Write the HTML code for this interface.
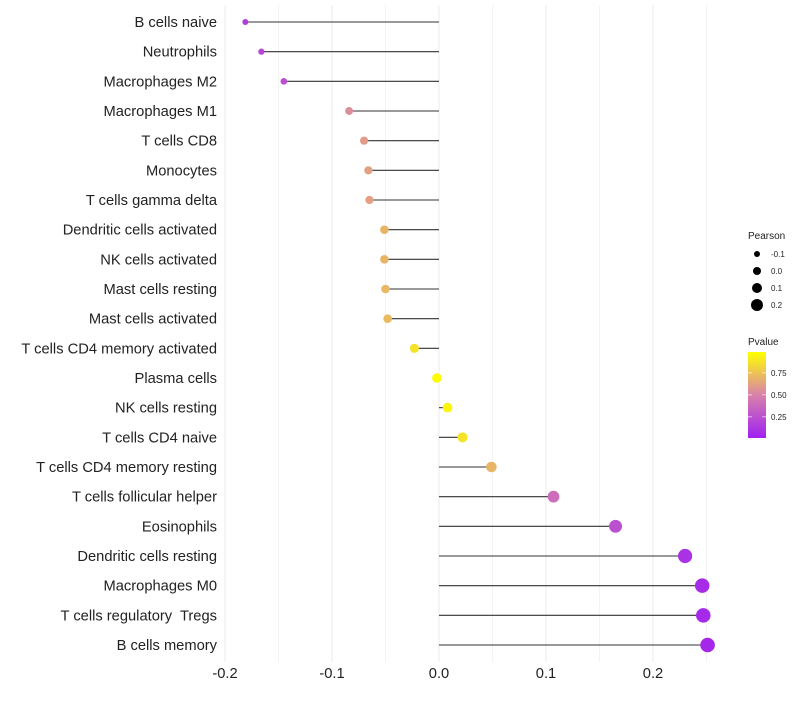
<!DOCTYPE html>
<html><head><meta charset="utf-8"><style>
body{margin:0;background:#fff;}
svg text{font-family:"Liberation Sans",sans-serif;white-space:pre;}
</style></head><body>
<svg id="chart" width="800" height="700"></svg>
<script>
const cells=["B cells naive","Neutrophils","Macrophages M2","Macrophages M1","T cells CD8","Monocytes","T cells gamma delta","Dendritic cells activated","NK cells activated","Mast cells resting","Mast cells activated","T cells CD4 memory activated","Plasma cells","NK cells resting","T cells CD4 naive","T cells CD4 memory resting","T cells follicular helper","Eosinophils","Dendritic cells resting","Macrophages M0","T cells regulatory  Tregs","B cells memory"];
const pearson=[-0.181,-0.166,-0.145,-0.084,-0.070,-0.066,-0.065,-0.051,-0.051,-0.050,-0.048,-0.023,-0.002,0.008,0.022,0.049,0.107,0.165,0.230,0.246,0.247,0.251];
const pvalue=[0.15,0.2,0.25,0.55,0.6,0.62,0.62,0.7,0.7,0.71,0.72,0.88,0.98,0.95,0.88,0.7,0.4,0.25,0.1,0.07,0.06,0.05];
const xTicks=[-0.2,-0.1,0.0,0.1,0.2];
const xTickLabels=["-0.2","-0.1","0.0","0.1","0.2"];
const sizeLegend=[-0.1,0.0,0.1,0.2];
const colorTicks=[0.25,0.5,0.75];

const NS="http://www.w3.org/2000/svg";
const svg=document.getElementById('chart');
function mk(t,a,p){const e=document.createElementNS(NS,t);for(const k in a)e.setAttribute(k,a[k]);(p||svg).appendChild(e);return e;}
const xs=v=>439+v*1070;
const ys=i=>22+i*(623/21);
const rs=v=>4.8+v*10;
function lerp(a,b,t){return a.map((x,i)=>Math.round(x+(b[i]-x)*t));}
function col(p){const t=Math.max(0,Math.min(1,(p-0.01)/0.98));const lo=[160,32,240],mid=[216,130,172],hi=[255,255,0];
 const c=t<0.5?lerp(lo,mid,t/0.5):lerp(mid,hi,(t-0.5)/0.5);return `rgb(${c.join(',')})`;}

for(let v=-0.2;v<=0.251;v+=0.05){const g=mk('line',{x1:xs(v),x2:xs(v),y1:5,y2:662,stroke:'#ebebeb','stroke-width':Math.abs(Math.round(v*20))%2===0?1:0.6});

}
xTicks.forEach((v,i)=>{const t=mk('text',{x:xs(v),y:678,'font-size':14.7,'text-anchor':'middle',fill:'#222'});t.textContent=xTickLabels[i];

});
cells.forEach((c,i)=>{
 const t=mk('text',{x:217,y:ys(i)+5,'font-size':14.7,'text-anchor':'end',fill:'#222'});t.textContent=c;
 
 
 const l=mk('line',{x1:xs(0),x2:xs(pearson[i]),y1:ys(i),y2:ys(i),stroke:'#333','stroke-width':1.1});
 
 
 const d=mk('circle',{cx:xs(pearson[i]),cy:ys(i),r:rs(pearson[i]),fill:col(pvalue[i])});
 
 
});
const lt=mk('text',{x:748,y:239,'font-size':10,fill:'#222'});lt.textContent='Pearson';


sizeLegend.forEach((v,i)=>{const y=254+i*17;
 const c=mk('circle',{cx:757,cy:y,r:rs(v)-0.8,fill:'#000'});
 
 
 const t=mk('text',{x:771,y:y+3,'font-size':8,fill:'#222'});t.textContent=v.toFixed(1);
 
 });
const ct=mk('text',{x:748,y:345,'font-size':10,fill:'#222'});ct.textContent='Pvalue';


const defs=mk('defs',{});const gr=mk('linearGradient',{id:'pg',x1:0,y1:1,x2:0,y2:0},defs);
[0,0.25,0.5,0.75,1].forEach(s=>mk('stop',{offset:s,'stop-color':col(0.01+s*0.98)},gr));
const bar=mk('rect',{x:748,y:352,width:18,height:86,fill:'url(#pg)'});


colorTicks.forEach(v=>{const y=438-(v-0.01)*88;
 mk('line',{x1:748,x2:752,y1:y,y2:y,stroke:'#fff','stroke-width':0.6});mk('line',{x1:762,x2:766,y1:y,y2:y,stroke:'#fff','stroke-width':0.6});
 const t=mk('text',{x:771,y:y+3,'font-size':8,fill:'#222'});t.textContent=v.toFixed(2);
 
 });
</script>
</body></html>
